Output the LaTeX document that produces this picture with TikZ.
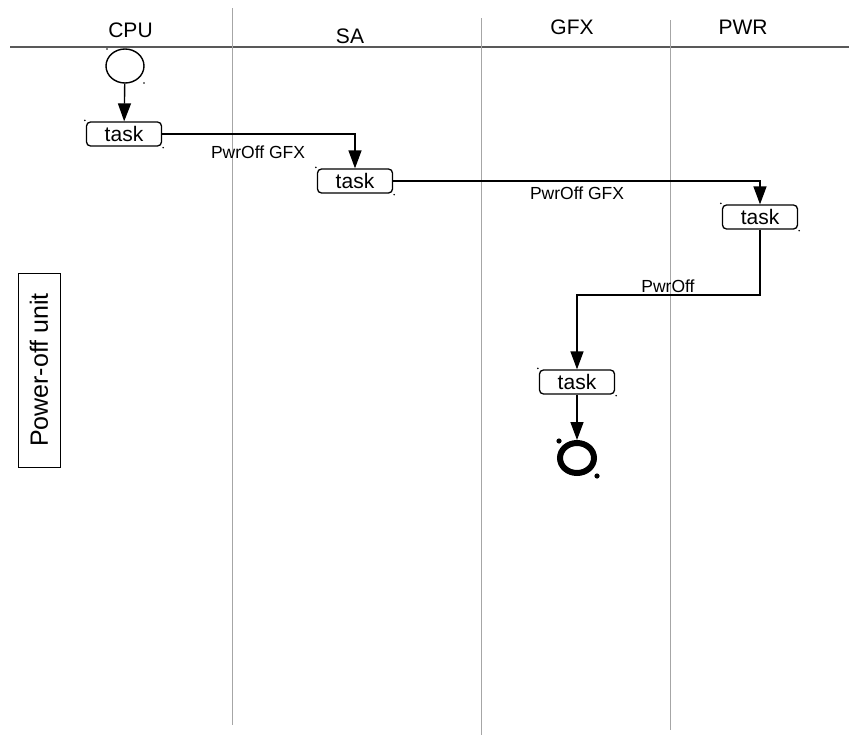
\documentclass[tikz,border=0pt]{standalone}
\usepackage{fontspec}
\setmainfont{Liberation Sans}
\usetikzlibrary{arrows.meta,calc,shapes.geometric}
\begin{document}
\begin{tikzpicture}[x=1pt,y=-1pt,
  lane/.style={draw=black!35,line width=0.8pt},
  head/.style={font=\fontsize{21}{24}\selectfont,inner sep=0pt},
  taskbox/.style={draw,line width=1.3pt,rounded corners=4pt,minimum width=75pt,minimum height=24pt,inner sep=0pt,font=\fontsize{21}{24}\selectfont},
  conn/.style={line width=1.4pt,-{Triangle[length=18pt,width=13pt]}},
  lbl/.style={font=\fontsize{17.5}{20}\selectfont,inner sep=0pt},
  speck/.style={fill=black}]
\useasboundingbox (0,0) rectangle (849,736);
% lanes
\draw[draw=black!65,line width=1.2pt] (10,47) -- (849,47);
\draw[lane] (232,8) -- (232,725);
\draw[lane] (481,18) -- (481,735);
\draw[lane] (670,20) -- (670,730);
\node[head] (hcpu) at (130.5,30.5) {CPU};
\node[head] (hsa) at (350,36) {SA};
\node[head] (hgfx) at (572,27) {GFX};
\node[head] (hpwr) at (743,27) {PWR};
% unit label
\node[draw,line width=0.8pt,minimum width=194pt,minimum height=42pt,inner sep=0pt,rotate=90,font=\fontsize{25}{28}\selectfont] (unit) at (39,370) {Power-off unit};
% nodes
\node[draw,line width=1.4pt,ellipse,minimum width=38pt,minimum height=34pt,inner sep=0pt] (start) at (125,66) {};
\node[taskbox] (t1) at (124,134) {task};
\node[taskbox] (t2) at (355,181) {task};
\node[taskbox] (t3) at (760,217) {task};
\node[taskbox] (t4) at (577,382) {task};
\node[draw,line width=6pt,ellipse,minimum width=34pt,minimum height=30pt,inner sep=0pt] (end) at (577,458) {};
% corner specks
\fill[speck] (559,441) circle (2.6pt);
\fill[speck] (597,476) circle (2.6pt);
\fill[speck] (107,49) circle (0.9pt);
\fill[speck] (144,83) circle (0.9pt);
\foreach \t in {t1,t2,t3,t4}{
  \fill[speck] ($(\t.north west)+(-1,-1)$) circle (0.9pt);
  \fill[speck] ($(\t.south east)+(1,1)$) circle (0.9pt);
}
% connectors
\draw[conn] (start) -- (t1);
\draw[conn] (t1.east) -| (t2.north);
\draw[conn] (t2.east) -| (t3.north);
\coordinate (b) at (760,295);
\draw[conn] (t3.south) -- (b) -| (t4.north);
\draw[conn] (t4.south) -- (end.north);
% labels
\node[lbl] (l1) at (258,152) {PwrOff GFX};
\node[lbl] (l2) at (577,193) {PwrOff GFX};
\node[lbl] (l3) at (668,286) {PwrOff};
\end{tikzpicture}
\end{document}
